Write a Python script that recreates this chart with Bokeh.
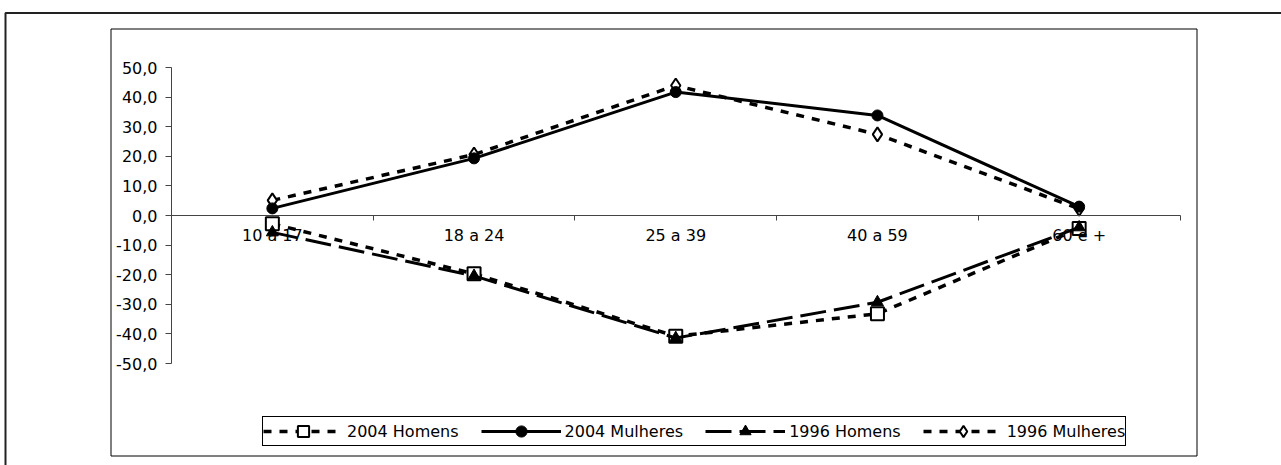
from bokeh.plotting import figure
from bokeh.models import (Range1d, LinearAxis, FixedTicker, CustomJSTickFormatter,
                          BoxAnnotation, Legend, LegendItem)
from bokeh.embed import file_html
from bokeh.resources import INLINE

# ---- data ----
CATEGORIES = ["10 a 17", "18 a 24", "25 a 39", "40 a 59", "60 e +"]
HOMENS_2004 = [-2.8, -19.7, -40.8, -33.2, -4.4]
MULHERES_2004 = [2.4, 19.3, 41.7, 33.8, 3.0]
HOMENS_1996 = [-5.7, -20.4, -41.4, -29.3, -4.0]
MULHERES_1996 = [5.1, 20.6, 43.9, 27.4, 2.3]
Y_TICKS = [50, 40, 30, 20, 10, 0, -10, -20, -30, -40, -50]
SERIES_NAMES = ["2004 Homens", "2004 Mulheres", "1996 Homens", "1996 Mulheres"]

# ---- layout (page pixels) ----
W, H = 1281, 465
OFF = 0
X0_PX, XU = 171.0, 201.7   # page x of value 0, px per category
Y0_PX, YU = 215.0, 2.96    # page y of value 0, px per unit


def dx(px):
    return (px - X0_PX) / XU


def dy(py):
    return (Y0_PX - py) / YU


FONT = "DejaVu Sans"
FS = "16px"

p = figure(width=W, height=H, output_backend="svg", toolbar_location=None,
           x_range=Range1d(dx(OFF), dx(OFF + W)),
           y_range=Range1d(dy(OFF + H), dy(OFF)),
           x_axis_type=None, y_axis_type=None, min_border=0,
           min_border_left=0, min_border_right=0, min_border_top=0, min_border_bottom=0)
p.outline_line_color = None
p.xgrid.visible = False
p.ygrid.visible = False
p.background_fill_color = "white"
p.border_fill_color = "white"

# outer frame (top + left visible)
p.add_layout(BoxAnnotation(left=dx(5), right=dx(1400), top=dy(12.5), bottom=dy(600),
                           fill_alpha=0, line_color="#222222", line_width=2, line_alpha=1))
# inner chart box
p.add_layout(BoxAnnotation(left=dx(110.5), right=dx(1196.5), top=dy(28.5), bottom=dy(455.5),
                           fill_alpha=0, line_color="black", line_width=1, line_alpha=1))

xs = [i + 0.5 for i in range(len(CATEGORIES))]

# y axis
yaxis = LinearAxis(fixed_location=0, bounds=(min(Y_TICKS), max(Y_TICKS)),
                   ticker=FixedTicker(ticks=Y_TICKS),
                   formatter=CustomJSTickFormatter(code="return tick.toFixed(1).replace('.', ',')"),
                   major_tick_out=6, major_tick_in=0, minor_tick_out=0, minor_tick_in=0,
                   axis_line_color="#444444", major_tick_line_color="#444444",
                   major_label_text_font=FONT, major_label_text_font_size=FS,
                   major_label_text_color="black", major_label_standoff=8)
p.add_layout(yaxis, "left")

# x axis line + boundary ticks
xaxis = LinearAxis(fixed_location=0, bounds=(0, len(CATEGORIES)),
                   ticker=FixedTicker(ticks=list(range(len(CATEGORIES) + 1))),
                   formatter=CustomJSTickFormatter(code="return ''"),
                   major_tick_out=5, major_tick_in=0, minor_tick_out=0, minor_tick_in=0,
                   axis_line_color="#444444", major_tick_line_color="#444444")
p.add_layout(xaxis, "below")

# x category labels
xlab = LinearAxis(fixed_location=0, bounds=(0, len(CATEGORIES)),
                  ticker=FixedTicker(ticks=xs),
                  formatter=CustomJSTickFormatter(args=dict(labels=CATEGORIES),
                                                  code="return labels[Math.round(tick - 0.5)]"),
                  major_tick_out=0, major_tick_in=0, minor_tick_out=0, minor_tick_in=0,
                  axis_line_alpha=0, major_label_text_font=FONT, major_label_text_font_size=FS,
                  major_label_text_color="black", major_label_standoff=10)
p.add_layout(xlab, "below")

# 1996 Mulheres
l4 = p.line(xs, MULHERES_1996, line_color="black", line_width=3.5, line_dash="8 8")
m4 = p.scatter(xs, MULHERES_1996, marker="diamond", size=14, fill_color="white",
               line_color="black", line_width=2)
# 2004 Mulheres
l2 = p.line(xs, MULHERES_2004, line_color="black", line_width=3)
m2 = p.scatter(xs, MULHERES_2004, marker="circle", size=11, fill_color="black",
               line_color="black")
# 2004 Homens
l1 = p.line(xs, HOMENS_2004, line_color="black", line_width=3.5, line_dash="8 8")
m1 = p.scatter(xs, HOMENS_2004, marker="square", size=13, fill_color="white",
               line_color="black", line_width=2)
# 1996 Homens
l3 = p.line(xs, HOMENS_1996, line_color="black", line_width=3, line_dash="26 8")
m3 = p.scatter(xs, HOMENS_1996, marker="triangle", size=12, fill_color="black",
               line_color="black")

items = [LegendItem(label=SERIES_NAMES[0], renderers=[l1, m1]),
         LegendItem(label=SERIES_NAMES[1], renderers=[l2, m2]),
         LegendItem(label=SERIES_NAMES[2], renderers=[l3, m3]),
         LegendItem(label=SERIES_NAMES[3], renderers=[l4, m4])]

legend = Legend(items=items, orientation="horizontal", location=(262 - OFF, OFF + H - 446),
                glyph_width=80, glyph_height=28, label_height=28, label_standoff=4,
                spacing=22, padding=0, margin=0,
                label_text_font=FONT, label_text_font_size=FS, label_text_color="black",
                border_line_color="black", border_line_width=1, border_line_alpha=1,
                background_fill_color="white", background_fill_alpha=1)
p.add_layout(legend, "center")

open("out.html", "w").write(file_html(p, INLINE))
